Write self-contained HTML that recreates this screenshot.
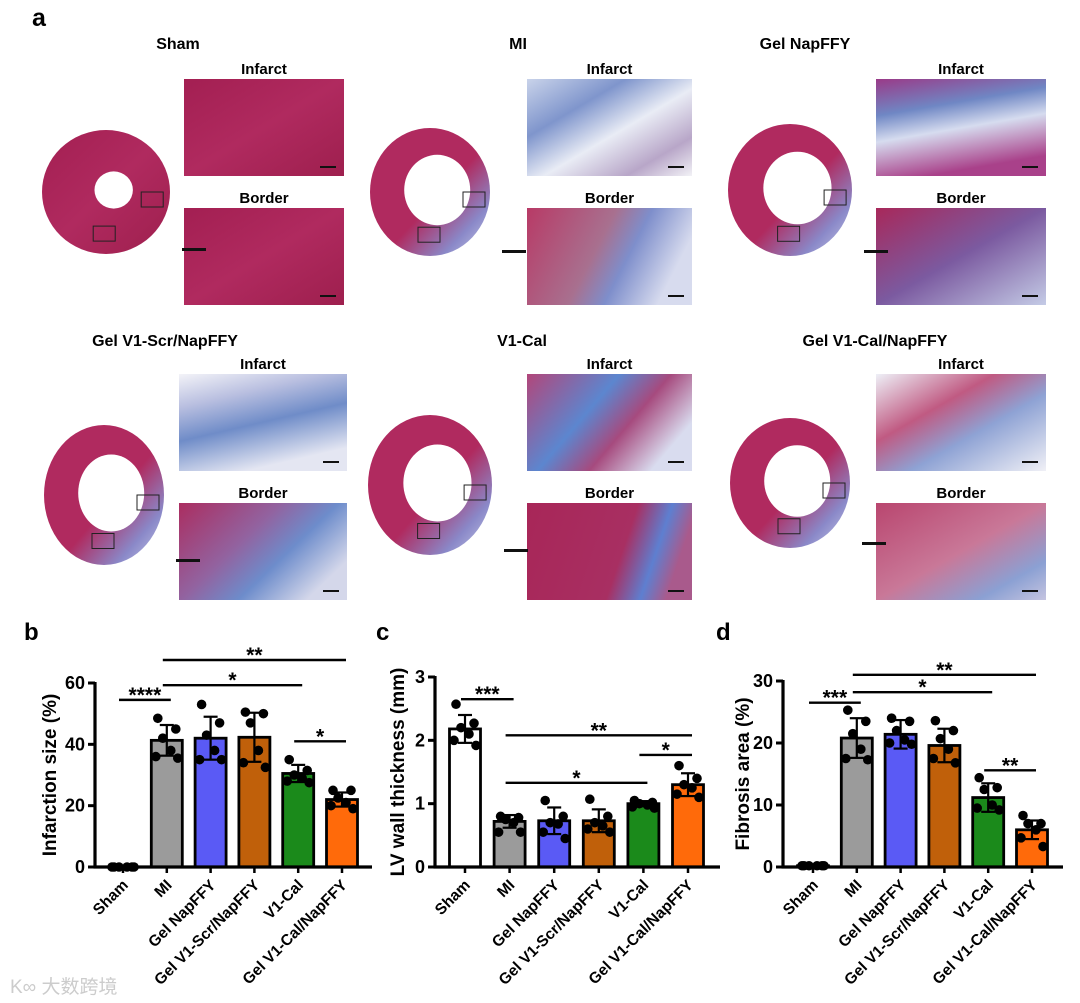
<!DOCTYPE html>
<html><head><meta charset="utf-8">
<style>
html,body{margin:0;padding:0;background:#fff;}
body{width:1080px;height:1003px;position:relative;overflow:hidden;font-family:"Liberation Sans",Arial,sans-serif;}
.t{position:absolute;font-weight:bold;color:#000;white-space:nowrap;transform:translateX(-50%);}
svg{position:absolute;left:0;top:0;}
</style></head><body>
<div class="t" style="left:32px;top:4px;font-size:25px;transform:none">a</div>

<svg id="hist" width="1080" height="620"></svg>

<div class="t" style="left:178px;top:36px;font-size:16px">Sham</div>
<div class="t" style="left:518px;top:36px;font-size:16px">MI</div>
<div class="t" style="left:805px;top:36px;font-size:16px">Gel NapFFY</div>
<div class="t" style="left:165px;top:333px;font-size:16px">Gel V1-Scr/NapFFY</div>
<div class="t" style="left:522px;top:333px;font-size:16px">V1-Cal</div>
<div class="t" style="left:875px;top:333px;font-size:16px">Gel V1-Cal/NapFFY</div>

<svg id="charts" width="1080" height="1003"></svg>

<div style="position:absolute;left:10px;top:972px;font-size:19px;color:#ccc;font-family:'Liberation Sans','Noto Sans CJK SC',sans-serif;">K∞ 大数跨境</div>

<script>
const NS="http://www.w3.org/2000/svg";
function mk(parent,tag,attrs){const e=document.createElementNS(NS,tag);for(const k in attrs)e.setAttribute(k,attrs[k]);parent.appendChild(e);return e;}

/* ---------- histology (decorative) ---------- */
const hist=document.getElementById('hist');
const defs=mk(hist,'defs',{});
function grad(id,stops,x2,y2){const g=mk(defs,'linearGradient',{id:id,x1:0,y1:0,x2:x2,y2:y2});stops.forEach(s=>mk(g,'stop',{offset:s[0],'stop-color':s[1]}));}
grad('gRed',[[0,'#a31f52'],[0.5,'#b02a5f'],[1,'#9e1f4e']],1,1);
grad('gMIinf',[[0,'#c9d3ea'],[0.3,'#7f95cc'],[0.55,'#e9ecf5'],[0.8,'#b8a6c8'],[1,'#f2f2f6']],1,1);
grad('gMIbor',[[0,'#b83a66'],[0.5,'#a8708f'],[0.7,'#7e8ecb'],[1,'#d7dbee']],1,0.3);
grad('gNapInf',[[0,'#9a3a88'],[0.35,'#6f87c4'],[0.6,'#d6dcef'],[1,'#a9418a']],0.3,1);
grad('gNapBor',[[0,'#a8285a'],[0.5,'#7b5aa0'],[1,'#c4cbe6']],1,1);
grad('gScrInf',[[0,'#f3f3f8'],[0.3,'#b9bfe0'],[0.6,'#6f8cc8'],[1,'#e4e6f2']],0.4,1);
grad('gScrBor',[[0,'#ab2d60'],[0.45,'#9263a0'],[0.7,'#6d8ccb'],[1,'#d4d7ea']],1,0.6);
grad('gCalInf',[[0,'#b2467a'],[0.45,'#5c86cf'],[0.7,'#a64a7e'],[1,'#d9dcef']],1,0.5);
grad('gCalBor',[[0,'#a82658'],[0.65,'#a82f62'],[0.85,'#5e7fd0'],[1,'#a95a8c']],1,0.2);
grad('gGcInf',[[0,'#eef0f7'],[0.35,'#c05a82'],[0.6,'#8ea2d4'],[1,'#f0f0f6']],1,1);
grad('gGcBor',[[0,'#b9466f'],[0.5,'#c97898'],[0.8,'#8ba0d3'],[1,'#c5c4e0']],1,1);
grad('gHeartMI',[[0,'#b02a5f'],[0.55,'#b02a5f'],[0.8,'#8a88c8'],[1,'#c9cfea']],1,1);

const insets=[
 [184,79,160,97,'gRed','inset-sham-infarct'],[184,208,160,97,'gRed','inset-sham-border'],
 [527,79,165,97,'gMIinf','inset-mi-infarct'],[527,208,165,97,'gMIbor','inset-mi-border'],
 [876,79,170,97,'gNapInf','inset-napffy-infarct'],[876,208,170,97,'gNapBor','inset-napffy-border'],
 [179,374,168,97,'gScrInf','inset-scr-infarct'],[179,503,168,97,'gScrBor','inset-scr-border'],
 [527,374,165,97,'gCalInf','inset-cal-infarct'],[527,503,165,97,'gCalBor','inset-cal-border'],
 [876,374,170,97,'gGcInf','inset-gelcal-infarct'],[876,503,170,97,'gGcBor','inset-gelcal-border']];
insets.forEach(r=>{
 const e=mk(hist,'rect',{x:r[0],y:r[1],width:r[2],height:r[3],fill:'url(#'+r[4]+')'});
 
 
 mk(hist,'rect',{x:r[0]+r[2]-24,y:r[1]+r[3]-10,width:16,height:2,fill:'#111'});
 const lab=mk(hist,'text',{x:r[0]+r[2]/2,y:r[1]-5,'text-anchor':'middle','font-size':15,'font-weight':'bold','font-family':'Liberation Sans, sans-serif'});
 lab.textContent=(r[1]===79||r[1]===374)?'Infarct':'Border';
});
const hearts=[
 [106,192,64,62,'url(#gRed)','heart-sham',0],[430,192,60,64,'url(#gHeartMI)','heart-mi',1],
 [790,190,62,66,'url(#gHeartMI)','heart-napffy',1],[104,495,60,70,'url(#gHeartMI)','heart-scr',1],
 [430,485,62,70,'url(#gHeartMI)','heart-cal',0.6],[790,483,60,65,'url(#gHeartMI)','heart-gelcal',0.5]];
hearts.forEach(h=>{
 const e=mk(hist,'ellipse',{cx:h[0],cy:h[1],rx:h[2],ry:h[3],fill:h[4]});
 
 
 const lr=h[6]?0.55:0.3;
 mk(hist,'ellipse',{cx:h[0]+h[2]*0.12,cy:h[1]-2,rx:h[2]*lr,ry:h[3]*lr,fill:'#fff'});
 mk(hist,'rect',{x:h[0]-h[2]*0.2,y:h[1]+h[3]*0.55,width:22,height:15,fill:'none',stroke:'#222','stroke-width':1});
 mk(hist,'rect',{x:h[0]+h[2]*0.55,y:h[1]+h[3]*0.0,width:22,height:15,fill:'none',stroke:'#222','stroke-width':1});
 mk(hist,'rect',{x:h[0]+h[2]+12,y:h[1]+h[3]-6,width:24,height:3,fill:'#111'});
});

/* ---------- chart data ---------- */
const categories=["Sham","MI","Gel NapFFY","Gel V1-Scr/NapFFY","V1-Cal","Gel V1-Cal/NapFFY"];
const barColors=["#ffffff","#9b9b9b","#5a5af5","#c0600a","#1b8a1b","#ff6a0a"];

const bValues=[0,41.3,42,42.3,30.5,22];
const bErrors=[0,5,7,8,2.8,2.3];
const bPoints=[[0,0,0,0,0,0],[48.5,45,42,38,36,35.5],[53,47,43,38,35,35],[50.5,50,47,38,34,32.5],[35,31.5,30,29,28,27.5],[25,25,22.5,21,20,19]];
const bTicks=[0,20,40,60];
const bSig=[[0,1,54.5,"****"],[1,4,59.3,"*"],[1,5,67.5,"**"],[4,5,41,"*"]];

const cValues=[2.18,0.72,0.73,0.73,1.0,1.3];
const cErrors=[0.22,0.1,0.21,0.18,0.04,0.18];
const cPoints=[[2.57,2.27,2.2,2.1,2.0,1.92],[0.8,0.78,0.75,0.7,0.55,0.55],[1.05,0.8,0.7,0.68,0.55,0.45],[1.07,0.8,0.7,0.65,0.6,0.55],[1.05,1.02,1.0,0.98,0.95,0.93],[1.6,1.4,1.3,1.25,1.15,1.1]];
const cTicks=[0,1,2,3];
const cSig=[[0,1,2.65,"***"],[1,5,2.08,"**"],[4,5,1.77,"*"],[1,4,1.33,"*"]];

const dValues=[0.2,20.8,21.4,19.6,11.2,6];
const dErrors=[0,3.2,2.3,2.7,2.3,1.5];
const dPoints=[[0.2,0.2,0.2,0.2,0.2,0.2],[25.3,23.5,21.5,19,17.5,17.3],[24,23.5,22,20.5,20,19.8],[23.6,22,20.7,19,17.5,16.8],[14.4,12.8,12.5,10,9.5,9.2],[8.3,7,7,6,4.7,3.3]];
const dTicks=[0,10,20,30];
const dSig=[[0,1,26.5,"***"],[1,4,28.2,"*"],[1,5,31,"**"],[4,5,15.6,"**"]];

const svg=document.getElementById('charts');
const FONT='Liberation Sans, Arial, sans-serif';

function chart(o){
 const g=mk(svg,'g',{});
 
 
 const y=v=>o.y0-(v/o.max)*(o.y0-o.yTop);
 const x=i=>o.x0+o.first+i*o.step;
 const bw=31;
 const L=mk(g,'text',{x:o.letterX,y:640,'font-size':24,'font-weight':'bold','font-family':FONT});
 L.textContent=o.letter;
 o.values.forEach((v,i)=>{
  const r=mk(g,'rect',{x:x(i)-bw/2,y:y(v),width:bw,height:Math.max(0,o.y0-y(v)),fill:barColors[i],stroke:'#000','stroke-width':2.8});
  
  
  if(o.errors[i]>0){
   const t=y(o.values[i]+o.errors[i]), b=y(o.values[i]-o.errors[i]);
   mk(g,'line',{x1:x(i),x2:x(i),y1:t,y2:b,stroke:'#000','stroke-width':2.2});
   mk(g,'line',{x1:x(i)-7,x2:x(i)+7,y1:t,y2:t,stroke:'#000','stroke-width':2.2});
   mk(g,'line',{x1:x(i)-7,x2:x(i)+7,y1:b,y2:b,stroke:'#000','stroke-width':2.2});
  }
  const offs=[-9,9,-4,4,-11,11];
  o.points[i].forEach((p,j)=>{
   const c=mk(g,'circle',{cx:x(i)+offs[j],cy:y(p),r:4.8,fill:'#000'});
   
   
  });
 });
 mk(g,'line',{x1:o.x0,x2:o.x0,y1:o.yTop-1,y2:o.y0+1.5,stroke:'#000','stroke-width':3.2});
 mk(g,'line',{x1:o.x0-1.5,x2:o.xEnd,y1:o.y0,y2:o.y0,stroke:'#000','stroke-width':3.2});
 o.ticks.forEach(t=>{
  mk(g,'line',{x1:o.x0-7,x2:o.x0,y1:y(t),y2:y(t),stroke:'#000','stroke-width':3});
  const tx=mk(g,'text',{x:o.x0-10,y:y(t)+6,'text-anchor':'end','font-size':18,'font-weight':'bold','font-family':FONT});
  tx.textContent=t;
 });
 categories.forEach((c,i)=>{
  mk(g,'line',{x1:x(i),x2:x(i),y1:o.y0,y2:o.y0+6,stroke:'#000','stroke-width':2.5});
  const tx=mk(g,'text',{x:0,y:0,'text-anchor':'end','font-size':15.5,'font-weight':'bold','font-family':FONT,transform:'translate('+(x(i)+6)+','+(o.y0+19)+') rotate(-45)'});
  tx.textContent=c;
  
  
 });
 const yt=mk(g,'text',{x:0,y:0,'text-anchor':'middle','font-size':19,'font-weight':'bold','font-family':FONT,transform:'translate('+o.titleX+','+((o.y0+o.yTop)/2)+') rotate(-90)'});
 yt.textContent=o.title;
 
 
 o.sig.forEach(s=>{
  const yy=y(s[2]);
  mk(g,'line',{x1:x(s[0])-4,x2:x(s[1])+4,y1:yy,y2:yy,stroke:'#000','stroke-width':2.4});
  const st=mk(g,'text',{x:(x(s[0])+x(s[1]))/2,y:yy+2,'text-anchor':'middle','font-size':21,'font-weight':'bold','font-family':FONT});
  st.textContent=s[3];
  
  
 });
}
chart({name:'chart-b-infarction-size',letter:'b',letterX:24,x0:95,xEnd:372,first:28,step:43.8,y0:867,yTop:683,max:60,values:bValues,errors:bErrors,points:bPoints,ticks:bTicks,sig:bSig,title:'Infarction size (%)',titleX:56});
chart({name:'chart-c-lv-wall',letter:'c',letterX:376,x0:435,xEnd:720,first:30,step:44.6,y0:867,yTop:677,max:3,values:cValues,errors:cErrors,points:cPoints,ticks:cTicks,sig:cSig,title:'LV wall thickness (mm)',titleX:404});
chart({name:'chart-d-fibrosis',letter:'d',letterX:716,x0:783,xEnd:1063,first:30,step:43.8,y0:867,yTop:681,max:30,values:dValues,errors:dErrors,points:dPoints,ticks:dTicks,sig:dSig,title:'Fibrosis area (%)',titleX:749});
</script>
</body></html>
